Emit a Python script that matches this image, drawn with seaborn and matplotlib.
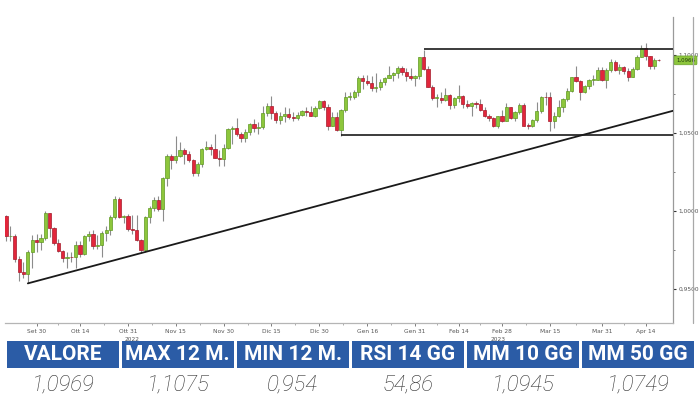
import numpy as np
import pandas as pd
import matplotlib
matplotlib.use("Agg")
import matplotlib.pyplot as plt
import seaborn as sns
from matplotlib.patches import Rectangle
from matplotlib.lines import Line2D

# ---------------- data ----------------
start_date = "2022-09-21"
end_date = "2023-04-19"

opens = [0.9971, 0.9837, 0.9838, 0.9690, 0.9607, 0.9594, 0.9736, 0.9815, 0.9802, 0.9826,
         0.9986, 0.9888, 0.9793, 0.9743, 0.9701, 0.9707, 0.9703, 0.9780, 0.9723, 0.9839,
         0.9855, 0.9774, 0.9781, 0.9860, 0.9878, 0.9964, 1.0078, 0.9963, 0.9966, 0.9882,
         0.9877, 0.9817, 0.9750, 0.9959, 1.0020, 1.0073, 1.0011, 1.0211, 1.0355, 1.0325,
         1.0350, 1.0393, 1.0364, 1.0324, 1.0243, 1.0301, 1.0396, 1.0408, 1.0398, 1.0341,
         1.0331, 1.0406, 1.0524, 1.0535, 1.0494, 1.0467, 1.0508, 1.0555, 1.0532, 1.0538,
         1.0630, 1.0676, 1.0627, 1.0582, 1.0607, 1.0625, 1.0605, 1.0596, 1.0615, 1.0640,
         1.0638, 1.0611, 1.0660, 1.0705, 1.0666, 1.0548, 1.0604, 1.0521, 1.0645, 1.0733,
         1.0734, 1.0760, 1.0850, 1.0831, 1.0821, 1.0787, 1.0795, 1.0830, 1.0856, 1.0871,
         1.0885, 1.0915, 1.0891, 1.0868, 1.0850, 1.0863, 1.0990, 1.0910, 1.0796, 1.0725,
         1.0726, 1.0713, 1.0741, 1.0678, 1.0722, 1.0740, 1.0685, 1.0674, 1.0695, 1.0685,
         1.0650, 1.0608, 1.0596, 1.0546, 1.0609, 1.0575, 1.0667, 1.0598, 1.0634, 1.0682,
         1.0547, 1.0545, 1.0582, 1.0642, 1.0732, 1.0730, 1.0577, 1.0609, 1.0670, 1.0716,
         1.0770, 1.0857, 1.0831, 1.0760, 1.0800, 1.0843, 1.0843, 1.0905, 1.0839, 1.0902,
         1.0955, 1.0907, 1.0921, 1.0900, 1.0860, 1.0913, 1.0990, 1.1046, 1.0991, 1.0928,
         1.0969]
highs = [0.9976, 0.9906, 0.9852, 0.9710, 0.9670, 0.9748, 0.9849, 0.9853, 0.9855, 0.9999,
         0.9990, 0.9898, 0.9819, 0.9750, 0.9740, 0.9740, 0.9807, 0.9809, 0.9849, 0.9875,
         0.9876, 0.9849, 0.9870, 0.9903, 0.9977, 1.0094, 1.0089, 0.9976, 0.9979, 0.9976,
         0.9976, 0.9823, 0.9966, 1.0033, 1.0093, 1.0096, 1.0221, 1.0364, 1.0365, 1.0481,
         1.0440, 1.0405, 1.0385, 1.0335, 1.0315, 1.0407, 1.0449, 1.0430, 1.0497, 1.0393,
         1.0429, 1.0534, 1.0545, 1.0595, 1.0506, 1.0529, 1.0564, 1.0588, 1.0572, 1.0673,
         1.0695, 1.0736, 1.0640, 1.0635, 1.0665, 1.0658, 1.0636, 1.0635, 1.0648, 1.0670,
         1.0672, 1.0674, 1.0714, 1.0713, 1.0683, 1.0632, 1.0636, 1.0653, 1.0760, 1.0760,
         1.0778, 1.0868, 1.0874, 1.0875, 1.0867, 1.0887, 1.0845, 1.0859, 1.0927, 1.0889,
         1.0929, 1.0930, 1.0914, 1.0914, 1.0874, 1.0990, 1.1033, 1.0930, 1.0806, 1.0748,
         1.0760, 1.0790, 1.0750, 1.0730, 1.0805, 1.0744, 1.0715, 1.0700, 1.0705, 1.0720,
         1.0667, 1.0625, 1.0600, 1.0612, 1.0646, 1.0691, 1.0670, 1.0640, 1.0694, 1.0695,
         1.0565, 1.0590, 1.0700, 1.0736, 1.0760, 1.0760, 1.0635, 1.0715, 1.0727, 1.0788,
         1.0857, 1.0930, 1.0840, 1.0806, 1.0845, 1.0870, 1.0925, 1.0924, 1.0915, 1.0973,
         1.0968, 1.0940, 1.0932, 1.0915, 1.0925, 1.0998, 1.1066, 1.1075, 1.0995, 1.0980,
         1.0975]
lows = [0.9810, 0.9807, 0.9670, 0.9553, 0.9571, 0.9536, 0.9633, 0.9736, 0.9752, 0.9812,
        0.9836, 0.9779, 0.9737, 0.9670, 0.9632, 0.9670, 0.9632, 0.9705, 0.9718, 0.9805,
        0.9757, 0.9754, 0.9705, 0.9807, 0.9849, 0.9951, 0.9953, 0.9925, 0.9870, 0.9853,
        0.9810, 0.9730, 0.9740, 0.9925, 1.0000, 0.9999, 0.9936, 1.0160, 1.0270, 1.0310,
        1.0345, 1.0300, 1.0315, 1.0225, 1.0225, 1.0285, 1.0390, 1.0360, 1.0338, 1.0290,
        1.0290, 1.0400, 1.0430, 1.0480, 1.0443, 1.0444, 1.0487, 1.0504, 1.0497, 1.0524,
        1.0608, 1.0591, 1.0565, 1.0560, 1.0573, 1.0590, 1.0574, 1.0583, 1.0607, 1.0610,
        1.0610, 1.0606, 1.0653, 1.0647, 1.0519, 1.0545, 1.0511, 1.0483, 1.0636, 1.0713,
        1.0716, 1.0738, 1.0780, 1.0807, 1.0767, 1.0766, 1.0778, 1.0805, 1.0853, 1.0835,
        1.0856, 1.0870, 1.0835, 1.0840, 1.0799, 1.0845, 1.0904, 1.0795, 1.0709, 1.0668,
        1.0690, 1.0704, 1.0654, 1.0660, 1.0700, 1.0662, 1.0660, 1.0612, 1.0660, 1.0640,
        1.0600, 1.0577, 1.0536, 1.0533, 1.0570, 1.0575, 1.0590, 1.0577, 1.0620, 1.0545,
        1.0525, 1.0540, 1.0573, 1.0630, 1.0680, 1.0516, 1.0530, 1.0605, 1.0635, 1.0705,
        1.0760, 1.0828, 1.0712, 1.0755, 1.0780, 1.0810, 1.0840, 1.0835, 1.0790, 1.0890,
        1.0897, 1.0880, 1.0880, 1.0835, 1.0858, 1.0905, 1.0988, 1.0970, 1.0910, 1.0910,
        1.0960]
closes = [0.9837, 0.9838, 0.9690, 0.9607, 0.9594, 0.9736, 0.9815, 0.9802, 0.9826, 0.9986,
          0.9888, 0.9793, 0.9743, 0.9701, 0.9707, 0.9703, 0.9780, 0.9723, 0.9839, 0.9855,
          0.9774, 0.9781, 0.9860, 0.9878, 0.9964, 1.0078, 0.9963, 0.9966, 0.9882, 0.9877,
          0.9817, 0.9750, 0.9959, 1.0020, 1.0073, 1.0011, 1.0211, 1.0355, 1.0325, 1.0350,
          1.0393, 1.0364, 1.0324, 1.0243, 1.0301, 1.0396, 1.0408, 1.0398, 1.0341, 1.0331,
          1.0406, 1.0524, 1.0535, 1.0494, 1.0467, 1.0508, 1.0555, 1.0532, 1.0538, 1.0630,
          1.0676, 1.0627, 1.0582, 1.0607, 1.0625, 1.0605, 1.0596, 1.0615, 1.0640, 1.0638,
          1.0611, 1.0660, 1.0705, 1.0666, 1.0548, 1.0604, 1.0521, 1.0645, 1.0733, 1.0734,
          1.0760, 1.0850, 1.0831, 1.0821, 1.0787, 1.0795, 1.0830, 1.0856, 1.0871, 1.0885,
          1.0915, 1.0891, 1.0868, 1.0850, 1.0863, 1.0990, 1.0910, 1.0796, 1.0725, 1.0726,
          1.0713, 1.0741, 1.0678, 1.0722, 1.0740, 1.0685, 1.0674, 1.0695, 1.0685, 1.0650,
          1.0608, 1.0596, 1.0546, 1.0609, 1.0575, 1.0667, 1.0598, 1.0634, 1.0682, 1.0547,
          1.0545, 1.0582, 1.0642, 1.0732, 1.0730, 1.0577, 1.0609, 1.0670, 1.0716, 1.0770,
          1.0857, 1.0831, 1.0760, 1.0800, 1.0843, 1.0843, 1.0905, 1.0839, 1.0902, 1.0955,
          1.0907, 1.0921, 1.0900, 1.0860, 1.0913, 1.0990, 1.1046, 1.0991, 1.0928, 1.0969,
          1.0966]

tick_dates = ["2022-09-30", "2022-10-14", "2022-10-31", "2022-11-15", "2022-11-30",
              "2022-12-15", "2022-12-30", "2023-01-16", "2023-01-31", "2023-02-14",
              "2023-02-28", "2023-03-15", "2023-03-31", "2023-04-14"]
tick_labels = ["Set 30", "Ott 14", "Ott 31", "Nov 15", "Nov 30", "Dic 15", "Dic 30",
               "Gen 16", "Gen 31", "Feb 14", "Feb 28", "Mar 15", "Mar 31", "Apr 14"]
year_dates = ["2022-11-01", "2023-02-27"]
year_labels = ["2022", "2023"]

ytick_values = [0.95, 1.00, 1.05, 1.10]
ytick_labels = ["0,9500", "1,0000", "1,0500", "1,1000"]
yminor_values = [0.975, 1.025, 1.075]

last_price = 1.0966
last_label = "1,0966"

resistance_level = 1.1036
resistance_date = "2023-02-02"
support_level = 1.0488
support_date = "2023-01-06"
trend_anchor_dates = ["2022-09-28", "2022-11-03"]

header_labels = ["VALORE", "MAX 12 M.", "MIN 12 M.", "RSI 14 GG", "MM 10 GG", "MM 50 GG"]
header_values = ["1,0969", "1,1075", "0,954", "54,86", "1,0945", "1,0749"]

# ---------------- frame ----------------
dates = pd.bdate_range(start_date, end_date)
df = pd.DataFrame({"date": dates, "open": opens, "high": highs,
                   "low": lows, "close": closes})
df["pos"] = np.arange(len(df))
df["up"] = df["close"] >= df["open"]
pos_of = {d.strftime("%Y-%m-%d"): p for d, p in zip(df["date"], df["pos"])}

sns.set_theme(style="white")
plt.rcParams["font.family"] = ["DejaVu Sans"]

W, H = 700, 400
fig = plt.figure(figsize=(7, 4), dpi=100)
fig.patch.set_facecolor("white")

ax_left, ax_right, ax_top, ax_bot = 5, 673, 17, 323
ax = fig.add_axes([ax_left / W, 1 - ax_bot / H, (ax_right - ax_left) / W, (ax_bot - ax_top) / H])
ax.set_facecolor("white")

GREEN, GREEN_EDGE = "#8dc63c", "#5f9a22"
RED, RED_EDGE = "#e2263b", "#a51b2b"
WICK = "#8c8c8c"

# wicks
ax.vlines(df["pos"], df["low"], df["high"], color=WICK, lw=0.8, zorder=2)
# bodies
body_bottom = np.minimum(df["open"], df["close"])
body_height = np.maximum((df["close"] - df["open"]).abs(), 0.0004)
face = np.where(df["up"], GREEN, RED)
edge = np.where(df["up"], GREEN_EDGE, RED_EDGE)
ax.bar(df["pos"], body_height, bottom=body_bottom, width=0.74,
       color=face, edgecolor=edge, linewidth=0.5, zorder=3)

# axes limits
xmin, xmax = -0.25, 153.3
ax.set_xlim(xmin, xmax)
ax.set_ylim(0.9282, 1.1244)

# trendline through two lows, extended to the right edge
p0, p1 = pos_of[trend_anchor_dates[0]], pos_of[trend_anchor_dates[1]]
v0, v1 = df.loc[p0, "low"], df.loc[p1, "low"]
slope = (v1 - v0) / (p1 - p0)
trend = pd.DataFrame({"x": [p0, xmax], "y": [v0, v0 + slope * (xmax - p0)]})
sns.lineplot(data=trend, x="x", y="y", ax=ax, color="#1a1a1a", lw=1.3, zorder=4)

# resistance / support
ax.hlines(resistance_level, pos_of[resistance_date], xmax, color="#1a1a1a", lw=1.2, zorder=4)
ax.hlines(support_level, pos_of[support_date], xmax, color="#1a1a1a", lw=1.2, zorder=4)

# spines
for s in ["top", "left"]:
    ax.spines[s].set_visible(False)
ax.spines["right"].set_color("#9a9a9a")
ax.spines["right"].set_linewidth(0.9)
ax.spines["bottom"].set_color("#b5b5b5")
ax.spines["bottom"].set_linewidth(0.9)

# ticks
ax.yaxis.tick_right()
ax.set_yticks(ytick_values)
ax.set_yticklabels(ytick_labels)
ax.set_yticks(yminor_values, minor=True)
ax.tick_params(axis="y", which="major", right=True, length=2.5, width=0.8, color="#333333",
               labelsize=4.2, labelcolor="#555555", pad=1.5)
ax.tick_params(axis="y", which="minor", right=True, length=1.5, width=0.6, color="#666666")

xt = [pos_of[d] for d in tick_dates]
ax.set_xticks(xt)
ax.set_xticklabels(tick_labels)
ax.set_xticks([(a + b) / 2 for a, b in zip(xt[:-1], xt[1:])], minor=True)
ax.tick_params(axis="x", which="major", bottom=True, length=2, width=0.6, color="#666666",
               labelsize=4.2, labelcolor="#555555", pad=2)
ax.tick_params(axis="x", which="minor", bottom=True, length=1.5, width=0.5, color="#888888")
ax.set_xlabel("")
ax.set_ylabel("")
for d, t in zip(year_dates, year_labels):
    ax.text(pos_of[d], -0.045, t, transform=ax.get_xaxis_transform(), ha="center", va="top",
            fontsize=4.2, color="#555555")

# last price tag
ax.annotate(last_label, xy=(1.0, last_price), xycoords=("axes fraction", "data"),
            xytext=(2.2, 0), textcoords="offset points", ha="left", va="center",
            fontsize=3.9, color="#1f3b0a",
            bbox=dict(boxstyle="round,pad=0.35,rounding_size=0.2", fc="#8dc63c", ec="#6aa22c", lw=0.5),
            annotation_clip=False, zorder=6)

# outer right frame line
fig.add_artist(Line2D([693 / W, 693 / W], [1 - ax_bot / H, 1 - ax_top / H],
                      transform=fig.transFigure, color="#a8a8a8", lw=0.9))

# ---------------- table ----------------
tax = fig.add_axes([0, 0, 1, 59 / H])
tax.set_xlim(0, W)
tax.set_ylim(59, 0)
tax.axis("off")
BLUE = "#2b5ca6"
cell_x0, cell_pitch, cell_w = 7, 115, 111.5
for i, (lab, val) in enumerate(zip(header_labels, header_values)):
    x0 = cell_x0 + i * cell_pitch
    tax.add_patch(Rectangle((x0, 0), cell_w, 27, facecolor=BLUE, edgecolor="none"))
    tax.text(x0 + cell_w / 2, 14, lab, ha="center", va="center", color="white",
             fontsize=15, fontweight="bold", family=["Roboto", "DejaVu Sans"])
    tax.text(x0 + cell_w / 2, 44, val, ha="center", va="center", color="#333333",
             fontsize=16, fontstyle="italic", fontweight="light",
             family=["Roboto", "DejaVu Sans"])

fig.savefig("out.png", dpi=100, facecolor="white")
